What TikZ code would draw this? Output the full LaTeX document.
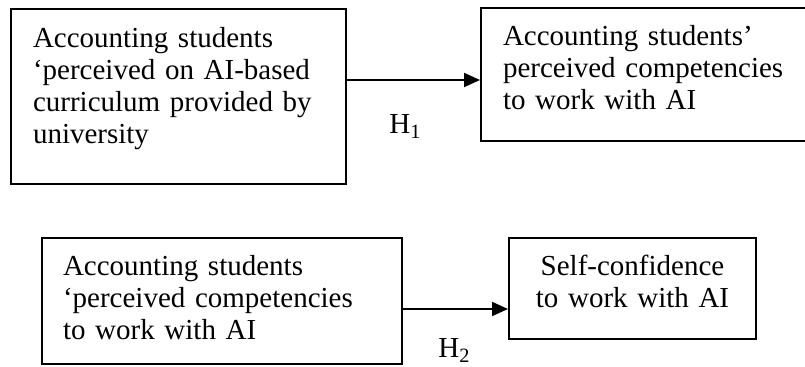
\documentclass[tikz,border=0pt]{standalone}
\usepackage{fontspec}
\setmainfont{Liberation Serif}
\usetikzlibrary{arrows.meta}

\tikzset{
  box/.style={draw, line width=1pt, anchor=north west, inner ysep=0pt, align=left,
    font=\fontsize{14.5}{16}\selectfont},
  link/.style={line width=1pt, -{Triangle[length=8pt,width=7pt]}},
  hyp/.style={anchor=base west, inner sep=0pt, font=\fontsize{14.5}{17}\selectfont}
}

\begin{document}
\begin{tikzpicture}[x=0.5pt, y=-0.5pt]
    \useasboundingbox (0,0) rectangle (805,367);
    %\draw[help lines] (0,0) grid[step=50] (805,367);
    % H1
    \node[box, text width=145.5pt, inner xsep=11pt, text height=19.5pt, text depth=68pt] (curric) at (10,8)
        {Accounting students\\‘perceived on AI-based\\curriculum provided by\\university};
    \node[box, text width=158pt, inner xsep=11pt, text height=19pt, text depth=47.5pt] (compet) at (480,7)
        {Accounting students’\\perceived competencies\\to work with AI};
    \draw[link] ([yshift=-36pt]curric.north east) coordinate (c1) -- (c1 -| compet.west);
    \node[hyp] (h1) at (389,134) {H\textsubscript{1}};
    % H2
    \node[box, text width=159pt, inner xsep=10.5pt, text height=19pt, text depth=44pt] (compet2) at (41,237)
        {Accounting students\\‘perceived competencies\\to work with AI};
    \node[box, align=center, text width=123.5pt, inner xsep=0pt, text height=19pt, text depth=31.5pt] (confid) at (508,237)
        {Self-confidence\\to work with AI};
    \draw[link] ([yshift=-36pt]compet2.north east) coordinate (c2) -- (c2 -| confid.west);
    \node[hyp] (h2) at (438,358) {H\textsubscript{2}};
\end{tikzpicture}
\end{document}
